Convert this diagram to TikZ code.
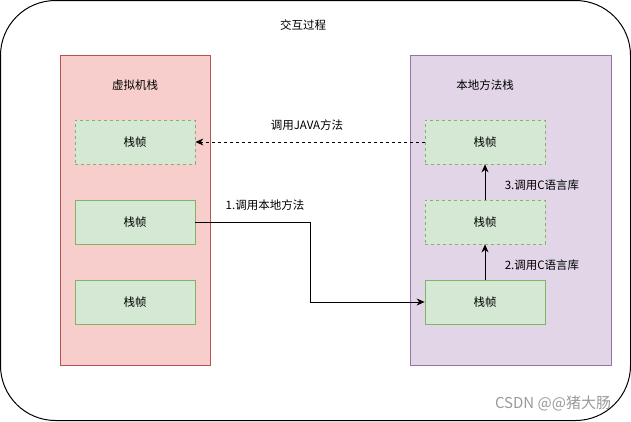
\documentclass[tikz,border=0pt]{standalone}
\usepackage{fontspec}
\setmainfont{Noto Sans CJK SC}
\usetikzlibrary{arrows.meta}
\definecolor{jvmfill}{HTML}{F8CECC}
\definecolor{jvmline}{HTML}{B85450}
\definecolor{nativefill}{HTML}{E1D5E7}
\definecolor{nativeline}{HTML}{9673A6}
\definecolor{framefill}{HTML}{D5E8D4}
\definecolor{frameline}{HTML}{82B366}
\begin{document}
\begin{tikzpicture}[x=1pt,y=-1pt,line width=0.8pt,
	font=\fontsize{11.5}{13}\selectfont,
	frame/.style={draw=frameline,fill=framefill,minimum width=120pt,minimum height=44pt,inner sep=0pt},
	call/.style={-{Stealth[length=8pt,width=7pt]}}]
\useasboundingbox (0,0) rectangle (631,421);
\draw[line width=1pt,rounded corners=55pt] (0.5,0.5) rectangle (630.5,420.5);
\node (title) at (303,25) {交互过程};
% the two stacks
\node[draw=jvmline,fill=jvmfill,minimum width=150pt,minimum height=310pt] (jvm) at (135,210) {};
\node[draw=nativeline,fill=nativefill,minimum width=201pt,minimum height=310pt] (native) at (510.5,210) {};
\node (jvmname) at (135,85) {虚拟机栈};
\node (nativename) at (485,85) {本地方法栈};
\foreach \i/\y/\s in {1/142/dashed,2/222/solid,3/302/solid} {
	\node[frame,\s] (j\i) at (135,\y) {栈帧};
}
\foreach \i/\y/\s in {1/142/dashed,2/222/dashed,3/302/solid} {
	\node[frame,\s] (n\i) at (485,\y) {栈帧};
}
% calls
\coordinate (bend) at (310,222);
\draw[call] (j2.east) -- (bend) |- (n3.west);
\node (step1) at (265,205) {1.调用本地方法};
\draw[call] (n3) -- (n2);
\node (step2) at (542,265) {2.调用C语言库};
\draw[call] (n2) -- (n1);
\node (step3) at (542,185) {3.调用C语言库};
\draw[call,dashed] (n1.west) -- (j1.east);
\node (back) at (307,125) {调用JAVA方法};
\node[text=black!40,font=\fontsize{15}{17}\selectfont] (mark) at (553,403) {CSDN @@猪大肠};
\end{tikzpicture}
\end{document}
